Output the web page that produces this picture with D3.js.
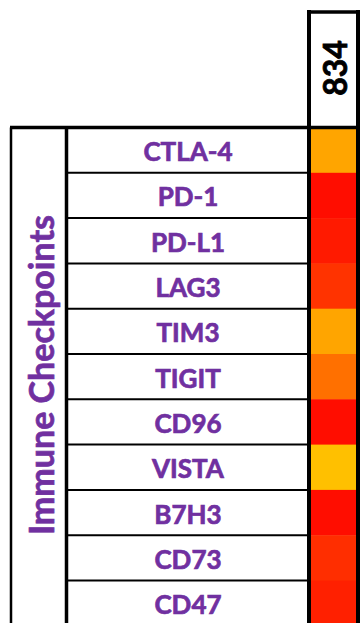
<!DOCTYPE html>
<html>
<head>
<meta charset="utf-8">
<script src="https://cdn.jsdelivr.net/npm/d3@7"></script>
<style>
  html, body { margin: 0; padding: 0; background: #fff; }
  svg { display: block; }
</style>
</head>
<body>
<div id="chart"></div>
<script>
// Checkpoint genes shown as rows of the heat-map
const genes = ["CTLA-4", "PD-1", "PD-L1", "LAG3", "TIM3", "TIGIT", "CD96", "VISTA", "B7H3", "CD73", "CD47"];
// Sample column
const samples = ["834"];
// Relative score per gene for sample 834 (0 = red, 1 = yellow)
const scores834 = [0.647, 0.05, 0.10, 0.20, 0.647, 0.44, 0.05, 0.753, 0.05, 0.18, 0.125];
const groupLabel = "Immune Checkpoints";

const W = 360, H = 623;
const purple = "#7030A0";
const font = "Lato, 'Open Sans', sans-serif";

const svg = d3.select("#chart").append("svg")
  .attr("width", W).attr("height", H);

const tableTop = 127.5;
const rowH = 45.3;

const y = d3.scaleBand()
  .domain(genes)
  .range([tableTop, tableTop + genes.length * rowH])
  .padding(0);

const x = d3.scaleBand()
  .domain(samples)
  .range([309.5, 357.5])
  .padding(0);

const color = d3.scaleLinear()
  .domain([0, 1])
  .range(["#ff0000", "#ffff00"])
  .interpolate(d3.interpolateRgb);

// heat cells
svg.append("g").selectAll("rect")
  .data(genes.map((g, i) => ({ gene: g, v: scores834[i] })))
  .join("rect")
  .attr("x", x("834"))
  .attr("y", d => y(d.gene))
  .attr("width", x.bandwidth())
  .attr("height", y.bandwidth() + 0.5)
  .attr("fill", d => color(d.v));

// row separators in the label column
svg.append("g").selectAll("line")
  .data(genes.slice(1))
  .join("line")
  .attr("x1", 67).attr("x2", 308)
  .attr("y1", d => y(d)).attr("y2", d => y(d))
  .attr("stroke", "#000").attr("stroke-width", 2);

// gene labels
svg.append("g").selectAll("text")
  .data(genes)
  .join("text")
  .attr("x", 188)
  .attr("y", d => y(d) + y.bandwidth() / 2 + 1)
  .attr("text-anchor", "middle")
  .attr("dominant-baseline", "central")
  .attr("fill", purple)
  .attr("stroke", purple)
  .attr("stroke-width", 0.7)
  .attr("font-family", font)
  .attr("font-weight", "bold")
  .attr("font-size", 26)
  .text(d => d);

// table frame
const bottom = H + 10;
svg.append("line").attr("x1", 10).attr("x2", W).attr("y1", tableTop).attr("y2", tableTop)
  .attr("stroke", "#000").attr("stroke-width", 3.5);
svg.append("line").attr("x1", 11).attr("x2", 11).attr("y1", tableTop).attr("y2", bottom)
  .attr("stroke", "#000").attr("stroke-width", 2.5);
svg.append("line").attr("x1", 66.5).attr("x2", 66.5).attr("y1", tableTop).attr("y2", bottom)
  .attr("stroke", "#000").attr("stroke-width", 3.5);
svg.append("line").attr("x1", 309).attr("x2", 309).attr("y1", 10).attr("y2", bottom)
  .attr("stroke", "#000").attr("stroke-width", 4);
svg.append("line").attr("x1", 358).attr("x2", 358).attr("y1", 10).attr("y2", bottom)
  .attr("stroke", "#000").attr("stroke-width", 4);
svg.append("line").attr("x1", 307).attr("x2", 360).attr("y1", 12).attr("y2", 12)
  .attr("stroke", "#000").attr("stroke-width", 3.5);

// sample header
svg.append("text")
  .attr("transform", `translate(${x("834") + x.bandwidth() / 2 + 0.5},68) rotate(-90)`)
  .attr("text-anchor", "middle")
  .attr("dominant-baseline", "central")
  .attr("fill", "#000")
  .attr("stroke", "#000")
  .attr("stroke-width", 0.8)
  .attr("font-family", font)
  .attr("font-weight", "bold")
  .attr("font-size", 32)
  .text(samples[0]);

// group label
svg.append("text")
  .attr("transform", `translate(40,375) rotate(-90)`)
  .attr("text-anchor", "middle")
  .attr("dominant-baseline", "central")
  .attr("fill", purple)
  .attr("stroke", purple)
  .attr("stroke-width", 0.7)
  .attr("font-family", font)
  .attr("font-weight", "bold")
  .attr("font-size", 34)
  .text(groupLabel);
</script>
</body>
</html>
